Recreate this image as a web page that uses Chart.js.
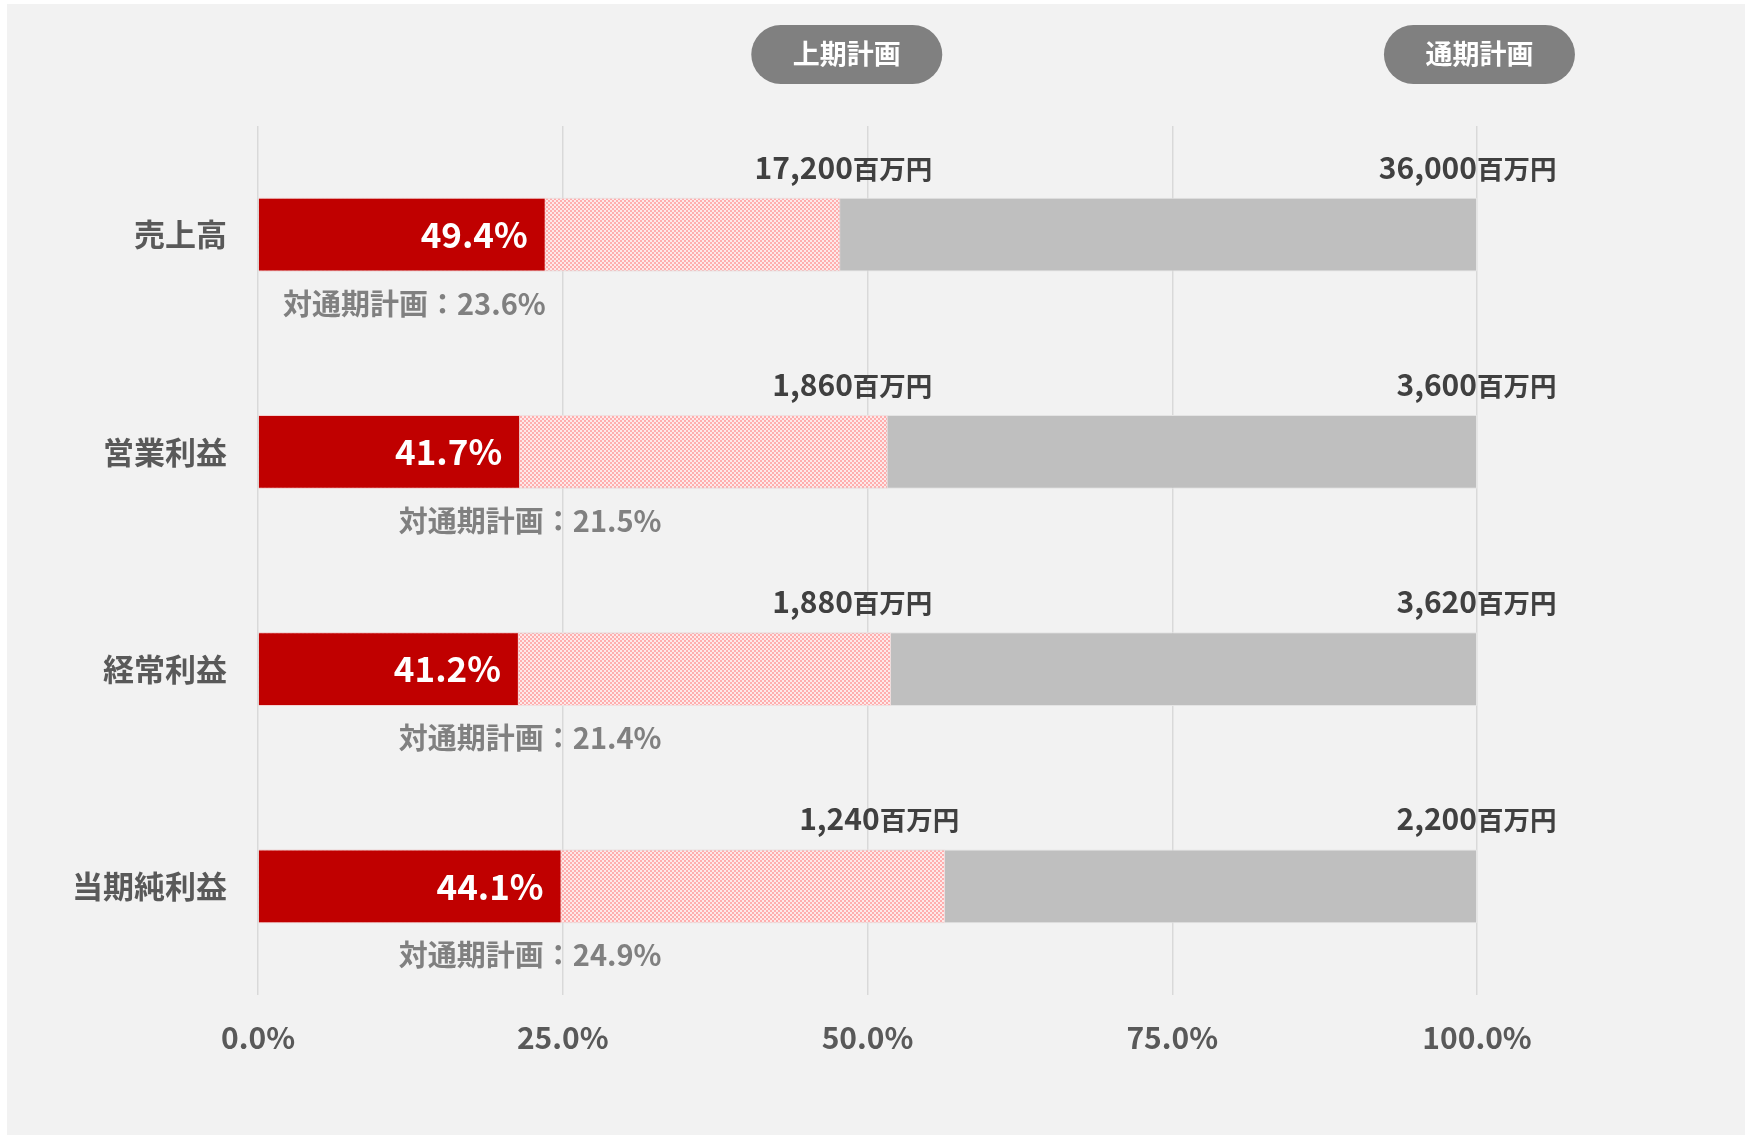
<!DOCTYPE html>
<html>
<head>
<meta charset="utf-8">
<script src="https://cdn.jsdelivr.net/npm/chart.js@4.4.0/dist/chart.umd.min.js"></script>
<style>
  html, body { margin: 0; padding: 0; background: #ffffff; }
  canvas { display: block; }
</style>
</head>
<body>
<canvas id="planChart" width="1753" height="1135"></canvas>
<script>
// data
var categories = ['売上高', '営業利益', '経常利益', '当期純利益'];
var fullYearPlan = [36000, 3600, 3620, 2200];      // 通期計画 (百万円)
var firstHalfPlan = [17200, 1860, 1880, 1240];     // 上期計画 (百万円)
var vsFullYear = [23.6, 21.5, 21.4, 24.9];         // 対通期計画 (%)
var vsFirstHalf = [49.4, 41.7, 41.2, 44.1];        // 対上期計画 (%)
var tickValues = [0, 25, 50, 75, 100];

var FONT = '"Noto Sans CJK JP", "Noto Sans", sans-serif';
Chart.defaults.font.family = FONT;

// half year plan as share of the full year plan
var firstHalfShare = firstHalfPlan.map(function (v, i) { return v / fullYearPlan[i] * 100; });
var fullShare = fullYearPlan.map(function () { return 100; });

// pink checker pattern for the first half plan part
function makePattern() {
    var c = document.createElement('canvas');
    c.width = 4; c.height = 4;
    var p = c.getContext('2d');
    p.fillStyle = '#fde9e9';
    p.fillRect(0, 0, 4, 4);
    p.fillStyle = '#ffaeae';
    p.fillRect(0, 0, 2, 2);
    p.fillRect(2, 2, 2, 2);
    return p.createPattern(c, 'repeat');
}

function fmt(n) {
    return n.toLocaleString('en-US');
}

var panelPlugin = {
    id: 'panel',
    beforeDraw: function (chart) {
        var ctx = chart.ctx;
        ctx.save();
        ctx.fillStyle = '#ffffff';
        ctx.fillRect(0, 0, chart.width, chart.height);
        ctx.fillStyle = '#f2f2f2';
        ctx.fillRect(7, 4, chart.width - 15, chart.height - 4);
        ctx.restore();
    }
};

function pill(ctx, cx, cy, w, h, text) {
    ctx.fillStyle = '#808080';
    ctx.beginPath();
    ctx.roundRect(cx - w / 2, cy - h / 2, w, h, h / 2);
    ctx.fill();
    ctx.fillStyle = '#ffffff';
    ctx.font = 'bold 27px ' + FONT;
    ctx.textAlign = 'center';
    ctx.textBaseline = 'middle';
    ctx.fillText(text, cx, cy - 1);
}

function amountLabel(ctx, right, baseline, value) {
    ctx.fillStyle = '#404040';
    ctx.textBaseline = 'alphabetic';
    ctx.textAlign = 'right';
    ctx.font = 'bold 30px ' + FONT;
    ctx.fillText(fmt(value), right, baseline);
    ctx.textAlign = 'left';
    ctx.font = 'bold 26.5px ' + FONT;
    ctx.fillText('百万円', right, baseline);
}

var labelPlugin = {
    id: 'labels',
    afterDatasetsDraw: function (chart) {
        var ctx = chart.ctx;
        var x = chart.scales.x;
        var red = chart.getDatasetMeta(0).data;
        var grey = chart.getDatasetMeta(2).data;
        // where the hand placed labels sit on the axis
        var h1Anchor = [48.8, 48.8, 48.8, 51.0];
        var subAnchor = [23.6, 33.1, 33.1, 33.1];

        ctx.save();
        pill(ctx, x.getPixelForValue(48.3), 54.5, 191, 59, '上期計画');
        pill(ctx, x.getPixelForValue(100.2), 54.5, 191, 59, '通期計画');

        categories.forEach(function (c, i) {
            var bar = red[i];
            var top = bar.y - bar.height / 2;
            var bottom = bar.y + bar.height / 2;

            ctx.fillStyle = '#ffffff';
            ctx.font = 'bold 35px ' + FONT;
            ctx.textAlign = 'right';
            ctx.textBaseline = 'middle';
            ctx.fillText(vsFirstHalf[i].toFixed(1) + '%', bar.x - 18, bar.y);

            ctx.fillStyle = '#808080';
            ctx.font = 'bold 29px ' + FONT;
            ctx.fillText('対通期計画：' + vsFullYear[i].toFixed(1) + '%', x.getPixelForValue(subAnchor[i]), bottom + 32);

            amountLabel(ctx, x.getPixelForValue(h1Anchor[i]), top - 19, firstHalfPlan[i]);
            amountLabel(ctx, grey[i].x, top - 19, fullYearPlan[i]);
        });
        ctx.restore();
    }
};

var ctx = document.getElementById('planChart').getContext('2d');
var planChart = new Chart(ctx, {
    type: 'bar',
    data: {
        labels: categories,
        datasets: [{
            label: '対通期計画',
            data: vsFullYear,
            backgroundColor: '#c00000',
            borderColor: '#f4d0d0',
            borderWidth: 1
        }, {
            label: '上期計画',
            data: firstHalfShare,
            backgroundColor: makePattern(),
            borderColor: '#f0e0e0',
            borderWidth: 1
        }, {
            label: '通期計画',
            data: fullShare,
            backgroundColor: '#bfbfbf',
            borderColor: '#e4e4e4',
            borderWidth: 1
        }]
    },
    options: {
        indexAxis: 'y',
        responsive: false,
        devicePixelRatio: 1,
        animation: false,
        layout: { padding: { top: 126, right: 276, bottom: 0, left: 0 } },
        datasets: { bar: { grouped: false, categoryPercentage: 1, barPercentage: 0.34 } },
        plugins: { legend: { display: false }, tooltip: { enabled: false } },
        scales: {
            x: {
                min: 0,
                max: 100,
                afterBuildTicks: function (scale) {
                    scale.ticks = tickValues.map(function (v) { return { value: v }; });
                },
                afterFit: function (scale) { scale.height = 140; },
                grid: { color: '#d9d9d9', lineWidth: 1.5, drawTicks: false },
                border: { display: false },
                ticks: {
                    padding: 25,
                    color: '#595959',
                    font: { size: 30, weight: 'bold' },
                    callback: function (v) { return v.toFixed(1) + '%'; }
                }
            },
            y: {
                afterFit: function (scale) { scale.width = 258; },
                grid: { display: false },
                border: { display: false },
                ticks: {
                    padding: 23,
                    color: '#595959',
                    font: { size: 31, weight: 'bold' }
                }
            }
        }
    },
    plugins: [panelPlugin, labelPlugin]
});
</script>
</body>
</html>
